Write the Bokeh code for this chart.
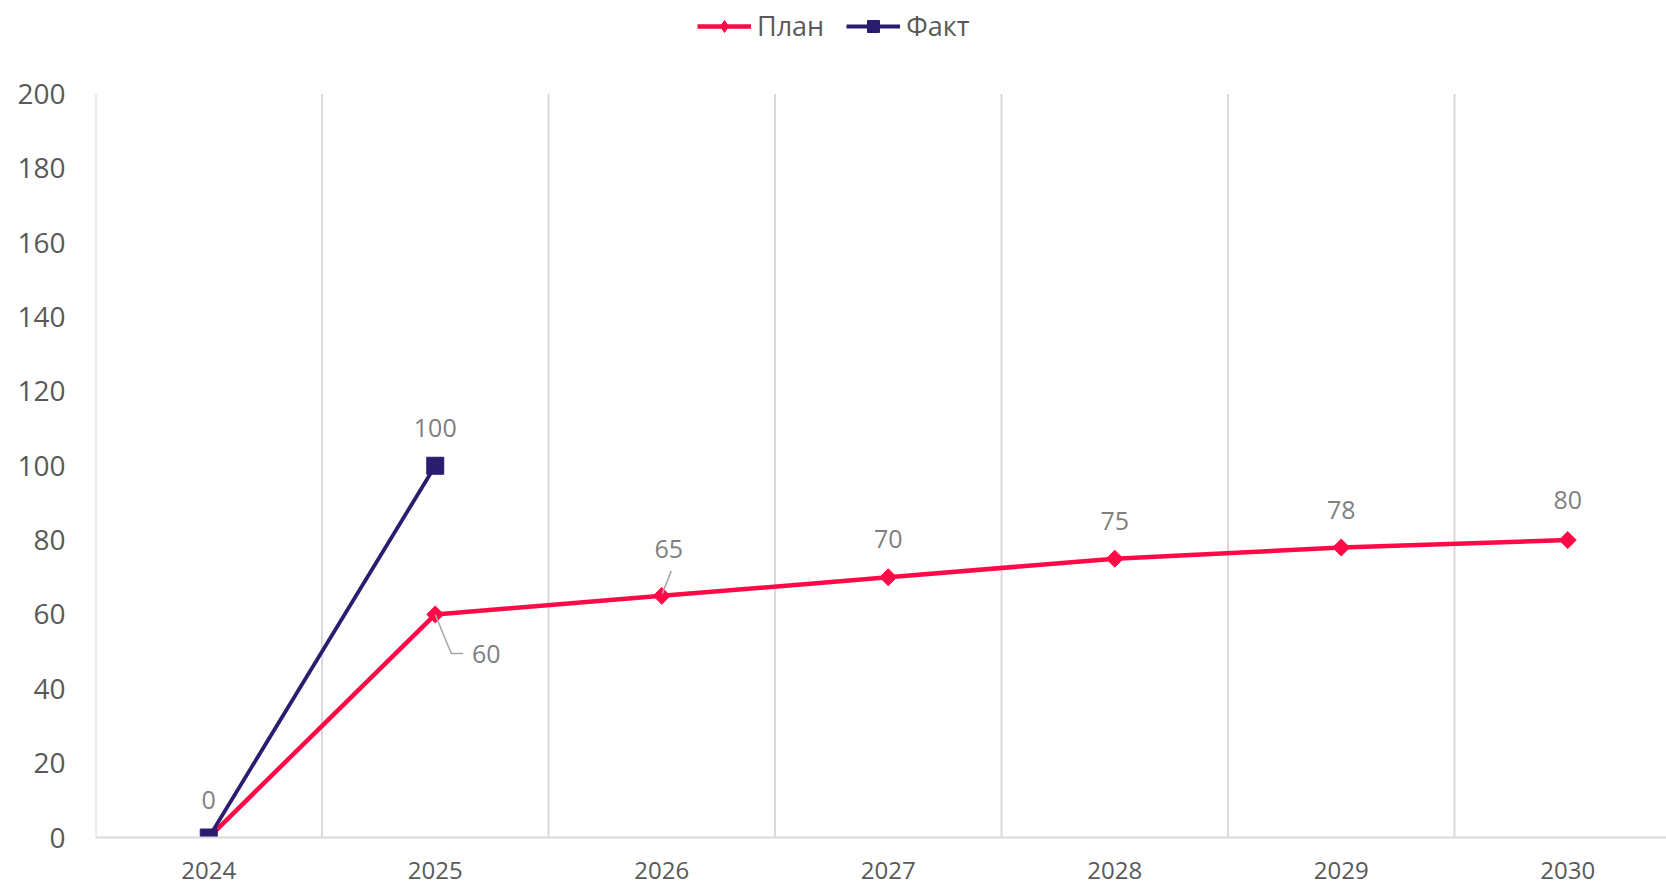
from bokeh.plotting import figure
from bokeh.models import Range1d, FixedTicker, ColumnDataSource, Legend, LegendItem
from bokeh.core.properties import value
from bokeh.embed import file_html
from bokeh.resources import INLINE
import math

# ---- data ----
years = ["2024", "2025", "2026", "2027", "2028", "2029", "2030"]
plan = [0, 60, 65, 70, 75, 78, 80]
fact = [0, 100]
y_ticks = [0, 20, 40, 60, 80, 100, 120, 140, 160, 180, 200]

# ---- geometry (pixels) ----
W, H = 1666, 886
LEFT, BOTTOM_PX = 95, 837
CAT_PX = 226.5
Y_PX = 3.7175  # px per unit

FONT = "Open Sans"
RED = "#FF0A47"
NAVY = "#2A1C6E"
GRID = "#D9D9D9"
TXT = "#595959"
LBL = "#7F7F7F"

x_idx = list(range(len(years)))
x_end = -0.5 + (W - LEFT) / CAT_PX
y_end = BOTTOM_PX / Y_PX

p = figure(width=W, height=H, output_backend="svg", toolbar_location=None,
           x_range=Range1d(-0.5, x_end), y_range=Range1d(0, y_end),
           min_border_left=LEFT, min_border_right=0, min_border_top=0,
           min_border_bottom=H - BOTTOM_PX)
p.outline_line_color = None
p.background_fill_color = "white"
p.xgrid.visible = False
p.ygrid.visible = False

# vertical gridlines between categories
gx = [i - 0.5 for i in range(len(years))]
p.segment(x0=gx, y0=[0] * len(gx), x1=gx, y1=[max(y_ticks)] * len(gx),
          line_color=GRID, line_width=2)

# axes
p.yaxis.ticker = FixedTicker(ticks=y_ticks)
p.yaxis.axis_line_color = None
p.yaxis.major_tick_line_color = None
p.yaxis.minor_tick_line_color = None
p.yaxis.major_label_standoff = 24
p.yaxis.major_label_text_font = FONT
p.yaxis.major_label_text_font_size = "28px"
p.yaxis.major_label_text_color = TXT

p.xaxis.ticker = FixedTicker(ticks=x_idx)
p.xaxis.major_label_overrides = {i: y for i, y in zip(x_idx, years)}
p.xaxis.axis_line_color = GRID
p.xaxis.axis_line_width = 2
p.xaxis.major_tick_line_color = None
p.xaxis.minor_tick_line_color = None
p.xaxis.major_label_standoff = 18
p.xaxis.major_label_text_font = FONT
p.xaxis.major_label_text_font_size = "24px"
p.xaxis.major_label_text_color = TXT

# series
fx = x_idx[:len(fact)]
l_plan = p.line(x_idx, plan, line_color=RED, line_width=4.5)
m_plan = p.scatter(x_idx, plan, marker="square", angle=math.pi / 4, size=12,
                   fill_color=RED, line_color=RED)
l_fact = p.line(fx, fact, line_color=NAVY, line_width=3.8)
m_fact = p.scatter(fx, fact, marker="square", size=17, fill_color=NAVY, line_color=NAVY)

# legend-only marker for the diamond (point not drawn: NaN)
nan = float("nan")
leg_diamond = p.scatter([nan], [nan], marker="diamond", size=20, fill_color=RED, line_color=RED)

# leader lines (pixel offsets from points, converted to data units)
def px2d(i, v, dx, dy):
    return i + dx / CAT_PX, v - dy / Y_PX

leaders = [(1, plan[1], [(0, 0), (16, 39), (28, 39)]),
           (2, plan[2], [(9.5, -25), (0.5, -2)])]
for i, v, pts in leaders:
    xs, ys = zip(*[px2d(i, v, dx, dy) for dx, dy in pts])
    p.line(list(xs), list(ys), line_color="#A6A6A6", line_width=1.5)

# data labels
lab_x = list(x_idx[1:]) + fx
lab_y = plan[1:] + fact
lab_t = [str(v) for v in plan[1:]] + [str(v) for v in fact]
off_x = [51, 7, 0, 0, 0, 0] + [0, 0]
off_y = [40, -47, -38, -38, -38, -40] + [-38, -38]
src = ColumnDataSource(dict(x=lab_x, y=lab_y, t=lab_t, ox=off_x, oy=off_y))
p.text(x="x", y="y", text="t", source=src, x_offset="ox", y_offset="oy",
       text_align="center", text_baseline="middle",
       text_font=value(FONT), text_font_size="25px", text_color=LBL)

legend = Legend(items=[LegendItem(label="План", renderers=[l_plan, leg_diamond]),
                       LegendItem(label="Факт", renderers=[l_fact, m_fact])],
                orientation="horizontal", location=(602, 793),
                glyph_width=54, glyph_height=30, label_height=30,
                label_standoff=6, spacing=22, padding=0, margin=0,
                label_text_font=FONT, label_text_font_size="27px",
                label_text_color=TXT, border_line_color=None,
                background_fill_alpha=0)
p.add_layout(legend)

open("out.html", "w").write(file_html(p, INLINE))
